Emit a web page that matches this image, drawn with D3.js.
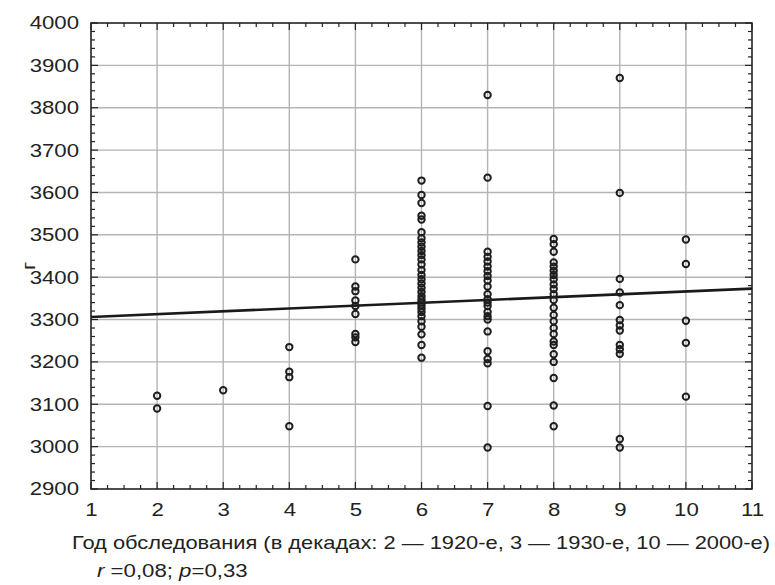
<!DOCTYPE html>
<html>
<head>
<meta charset="utf-8">
<script src="https://cdn.jsdelivr.net/npm/d3@7"></script>
<style>
  body { margin: 0; background: #fff; }
  svg { display: block; font-family: "Liberation Sans", Arial, Helvetica, sans-serif; }
</style>
</head>
<body>
<svg id="chart" width="775" height="585"></svg>
<script>
// Decades of examination (2 = 1920s ... 10 = 2000s) and measured values
const decades = [2, 3, 4, 5, 6, 7, 8, 9, 10];
const valuesByDecade = [
  [3120, 3090],
  [3133],
  [3235, 3177, 3164, 3048],
  [3442, 3378, 3367, 3345, 3332, 3313, 3266, 3258, 3247],
  [3628, 3594, 3575, 3545, 3536, 3506, 3492, 3482, 3472, 3462, 3452, 3442, 3430,
   3417, 3405, 3395, 3385, 3375, 3365, 3355, 3347, 3340, 3334, 3326, 3318, 3308,
   3296, 3283, 3265, 3240, 3210],
  [3830, 3635, 3460, 3448, 3437, 3425, 3414, 3403, 3392, 3378, 3360, 3348, 3340,
   3332, 3318, 3308, 3300, 3272, 3225, 3207, 3197, 3096, 2998],
  [3490, 3478, 3460, 3435, 3425, 3415, 3405, 3395, 3383, 3372, 3360, 3346, 3328,
   3311, 3296, 3280, 3266, 3248, 3240, 3218, 3200, 3162, 3097, 3048],
  [3870, 3599, 3396, 3364, 3334, 3299, 3286, 3274, 3240, 3230, 3219, 3018, 2998],
  [3489, 3431, 3297, 3245, 3118]
];
// Fitted regression line end points
const fitX = [1, 11];
const fitY = [3306, 3373];

const xTicks = [1, 2, 3, 4, 5, 6, 7, 8, 9, 10, 11];
const yTicks = [2900, 3000, 3100, 3200, 3300, 3400, 3500, 3600, 3700, 3800, 3900, 4000];
const xTitle = "Год обследования (в декадах: 2 — 1920-е, 3 — 1930-е, 10 — 2000-е)";
const yTitle = "г";

const svg = d3.select("#chart");
const m = { left: 91, right: 752, top: 23, bottom: 489 };
const fontSize = 18.5;
const widen = 1.2;   // the lettering is set in a broad face; stretch glyphs horizontally

const x = d3.scaleLinear().domain([1, 11]).range([m.left, m.right]);
const y = d3.scaleLinear().domain([2900, 4000]).range([m.bottom, m.top]);

// grid
const grid = svg.append("g").attr("stroke", "#b4b4b8").attr("stroke-width", 1.4);
grid.selectAll("line.v").data(xTicks.slice(1, -1)).enter().append("line")
  .attr("x1", d => x(d)).attr("x2", d => x(d)).attr("y1", m.top).attr("y2", m.bottom);
grid.selectAll("line.h").data(yTicks.slice(1, -1)).enter().append("line")
  .attr("x1", m.left).attr("x2", m.right).attr("y1", d => y(d)).attr("y2", d => y(d));

// inward ticks on all four sides
const xMinor = d3.range(1, 11.001, 0.25);
const yMinor = d3.range(2900, 4000.1, 20);
const tickG = svg.append("g").attr("stroke", "#222").attr("stroke-width", 1.2);
function isMajorX(v) { return Math.abs(v - Math.round(v)) < 1e-6; }
function isMajorY(v) { return Math.abs(v / 100 - Math.round(v / 100)) < 1e-6; }
xMinor.forEach(v => {
  const len = isMajorX(v) ? 7 : 4;
  tickG.append("line").attr("x1", x(v)).attr("x2", x(v)).attr("y1", m.bottom).attr("y2", m.bottom - len);
  tickG.append("line").attr("x1", x(v)).attr("x2", x(v)).attr("y1", m.top).attr("y2", m.top + len);
});
yMinor.forEach(v => {
  const len = isMajorY(v) ? 7 : 4;
  tickG.append("line").attr("x1", m.left).attr("x2", m.left + len).attr("y1", y(v)).attr("y2", y(v));
  tickG.append("line").attr("x1", m.right).attr("x2", m.right - len).attr("y1", y(v)).attr("y2", y(v));
});

// frame
svg.append("rect").attr("x", m.left).attr("y", m.top)
  .attr("width", m.right - m.left).attr("height", m.bottom - m.top)
  .attr("fill", "none").attr("stroke", "#222").attr("stroke-width", 1.6);

// tick labels via axes with hidden lines
const xAxis = svg.append("g").attr("transform", `translate(0,${m.bottom})`)
  .call(d3.axisBottom(x).tickValues(xTicks).tickSize(0).tickPadding(14).tickFormat(d3.format("d")));
const yAxis = svg.append("g").attr("transform", `translate(${m.left},0)`)
  .call(d3.axisLeft(y).tickValues(yTicks).tickSize(0).tickPadding(12).tickFormat(d3.format("d")));
[xAxis, yAxis].forEach(a => {
  a.select(".domain").remove();
  a.selectAll("text").attr("font-size", fontSize).attr("fill", "#222")
    .attr("font-family", "'Liberation Sans', Arial, sans-serif");
});

// regression line
svg.append("line")
  .attr("x1", x(fitX[0])).attr("y1", y(fitY[0]))
  .attr("x2", x(fitX[1])).attr("y2", y(fitY[1]))
  .attr("stroke", "#1a1a1a").attr("stroke-width", 2.6);

// points
const pts = [];
decades.forEach((d, i) => valuesByDecade[i].forEach(v => pts.push({ d, v })));
svg.append("g").selectAll("circle").data(pts).enter().append("circle")
  .attr("cx", p => x(p.d)).attr("cy", p => y(p.v)).attr("r", 3.2)
  .attr("fill", "none").attr("stroke", "#1e1e1e").attr("stroke-width", 2);

// titles
svg.append("text").attr("class", "xtitle").attr("x", 421).attr("y", 549).attr("text-anchor", "middle")
  .attr("font-size", fontSize).attr("fill", "#222").text(xTitle);
const stat = svg.append("text").attr("x", 97).attr("y", 577)
  .attr("font-size", fontSize).attr("fill", "#222");
stat.append("tspan").attr("font-style", "italic").text("r");
stat.append("tspan").text(" =0,08; ");
stat.append("tspan").attr("font-style", "italic").text("p");
stat.append("tspan").text("=0,33");
svg.append("text").attr("transform", "translate(35,266) rotate(-90)")
  .attr("text-anchor", "middle").attr("font-size", fontSize).attr("fill", "#222").text(yTitle);

// widen every label; the long axis title is kept within the page
svg.selectAll("text").each(function () {
  const w = this.getComputedTextLength();
  const k = this.classList.contains("xtitle") ? Math.min(widen, 698 / w) : widen;
  d3.select(this).attr("textLength", w * k).attr("lengthAdjust", "spacingAndGlyphs");
});
</script>
</body>
</html>
